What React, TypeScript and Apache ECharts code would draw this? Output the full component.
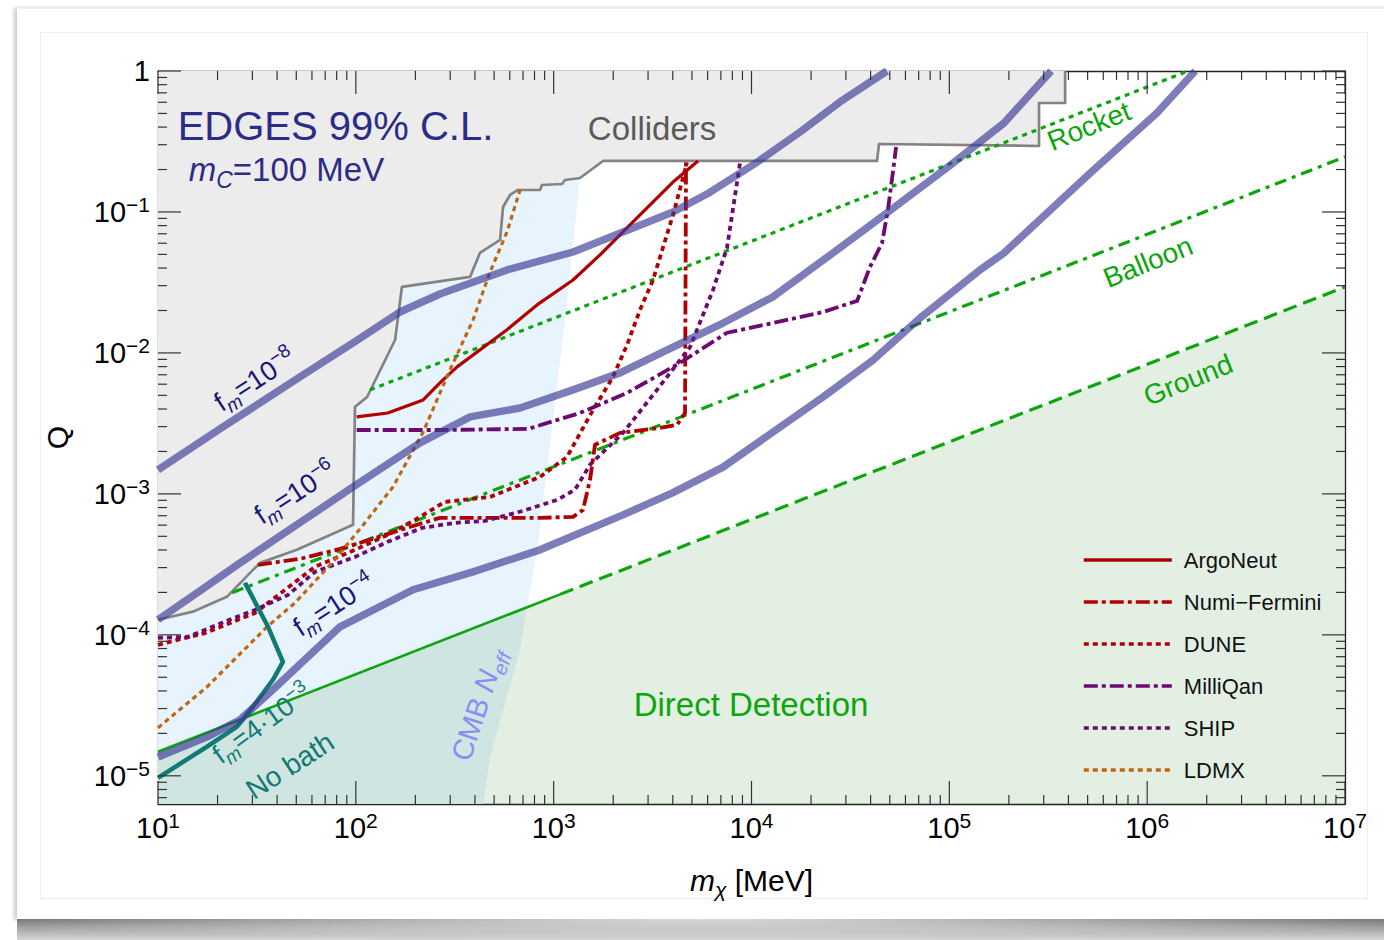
import React, { useEffect, useRef } from "react";
import * as echarts from "echarts";

type Pt = [number, number];

const FONT = '"Liberation Sans", Arial, Helvetica, sans-serif';

// Plot range: m_chi in MeV, Q dimensionless
const massRange: Pt = [10, 1e7];
const qRange: Pt = [6.31e-6, 1];

// Decade exponents that carry labels
const xTickExponents = [1, 2, 3, 4, 5, 6, 7];
const yTickExponents = [-5, -4, -3, -2, -1, 0];

// EDGES 99% C.L. curves, [m_chi (MeV), Q]
const fm8: Pt[] = [
  [10, 1.48e-3], [21.3, 2.99e-3], [52.2, 6.76e-3], [96.8, 1.18e-2], [167, 1.95e-2],
  [266, 2.62e-2], [581, 3.88e-2], [1253, 5.2e-2], [2242, 7.22e-2], [4011, 0.1],
  [5960, 0.134], [1.07e4, 0.226], [1.76e4, 0.369], [2.8e4, 0.603], [4.84e4, 1],
];
const fm6: Pt[] = [
  [10, 1.28e-4], [16.3, 2.05e-4], [26, 3.24e-4], [96.8, 1.12e-3], [211, 2.3e-3],
  [378, 3.52e-3], [676, 4.07e-3], [1253, 5.47e-3], [2165, 7.22e-3], [4011, 1.1e-2],
  [7180, 1.63e-2], [1.285e4, 2.5e-2], [2.58e4, 5.12e-2], [4.68e4, 9.52e-2],
  [1.03e5, 0.219], [1.89e5, 0.428], [3.27e5, 1],
];
const fm4: Pt[] = [
  [10, 1.36e-5], [17.7, 1.89e-5], [26, 2.5e-5], [39, 4.21e-5], [83.2, 1.14e-4],
  [194.5, 2.09e-4], [391, 2.8e-4], [853, 4.01e-4], [2242, 7.1e-4], [4011, 1.02e-3],
  [7180, 1.55e-3], [1.285e4, 2.75e-3], [2.3e4, 4.87e-3], [4.12e4, 8.92e-3],
  [7.11e4, 1.77e-2], [1.43e5, 3.88e-2], [1.89e5, 5.12e-2], [5.09e5, 0.186],
  [1.12e6, 0.504], [1.75e6, 1],
];
// f_m = 4e-3 without a thermal bath
const noBath: Pt[] = [
  [27.5, 2.34e-4], [36, 1.14e-4], [42.8, 6.43e-5], [38.1, 4.8e-5], [30.2, 3.09e-5],
  [25.1, 2.23e-5], [17.7, 1.61e-5], [10, 9.68e-6],
];

// Excluded regions
const collidersEdge: Pt[] = [
  [10, 1.28e-4], [15, 1.46e-4], [22.3, 1.86e-4], [29.2, 2.75e-4], [32.8, 3.24e-4],
  [50.4, 4.01e-4], [96.8, 6.03e-4], [99, 4.14e-3], [114, 4.87e-3], [158, 1.24e-2],
  [171, 2.94e-2], [378, 3.46e-2], [424, 5.12e-2], [536, 6.33e-2], [555, 0.1085],
  [602, 0.132], [660, 0.1432], [853, 0.1432], [873, 0.1554], [1102, 0.1579],
  [1141, 0.1686], [1359, 0.1742], [1776, 0.23], [4.31e4, 0.23], [4.41e4, 0.3035],
  [2.84e5, 0.2938], [2.84e5, 0.593], [3.85e5, 0.593], [3.85e5, 1],
];
const cmbEdge: Pt[] = [
  [1527, 1], [1359, 0.1742], [1168, 2.26e-2], [992, 3.35e-3], [824, 3.88e-4],
  [733, 1.58e-4], [676, 7.83e-5], [477, 1.36e-5], [440, 6.31e-6],
];
const groundSolid: Pt[] = [[10, 1.48e-5], [1077, 1.937e-4]];
const groundDashed: Pt[] = [[1077, 1.937e-4], [1e7, 2.94e-2]];
const balloon: Pt[] = [[23.7, 1.99e-4], [1e7, 0.246]];
const rocket: Pt[] = [[118, 5.47e-3], [1.61e6, 1]];

// Experimental reaches
const argoNeut: Pt[] = [
  [101, 3.52e-3], [145, 3.75e-3], [219, 4.64e-3], [266, 6.13e-3], [325, 7.96e-3],
  [581, 1.46e-2], [824, 2.19e-2], [1253, 3.29e-2], [1715, 4.96e-2], [2732, 9.52e-2],
  [4011, 0.163], [5366, 0.23],
];
const numiFermini: Pt[] = [
  [32, 3.14e-4], [52.2, 3.46e-4], [83.2, 4.07e-4], [122, 4.8e-4], [181, 5.74e-4],
  [266, 6.76e-4], [536, 6.76e-4], [853, 6.76e-4], [1253, 6.87e-4], [1407, 7.7e-4],
  [1527, 1.26e-3], [1618, 2.23e-3], [2165, 2.71e-3], [3448, 2.94e-3], [4202, 3.09e-3],
  [4613, 3.75e-3], [4667, 0.23],
];
const dune: Pt[] = [
  [10, 8.5e-5], [17.3, 1.03e-4], [30.9, 1.43e-4], [62.2, 3.04e-4], [99, 4.01e-4],
  [145, 5.12e-4], [199, 6.54e-4], [282, 8.78e-4], [477, 9.52e-4], [853, 1.32e-3],
  [1168, 1.83e-3], [1581, 3.94e-3], [1995, 6.76e-3], [2349, 1.14e-2], [2732, 2.02e-2],
  [3177, 3.29e-2], [4011, 9.52e-2], [4722, 0.223],
];
const milliQan: Pt[] = [
  [101, 2.84e-3], [266, 2.84e-3], [742, 2.89e-3], [1359, 3.75e-3], [2349, 5.2e-3],
  [4352, 8.5e-3], [7520, 1.39e-2], [1.285e4, 1.63e-2], [2.3e4, 1.95e-2],
  [3.42e4, 2.34e-2], [3.97e4, 4.07e-2], [4.57e4, 6.03e-2], [4.9e4, 0.105],
  [5.25e4, 0.219], [5.38e4, 0.289],
];
const ship: Pt[] = [
  [10, 9.52e-5], [14.2, 9.68e-5], [21.1, 1.22e-4], [30.9, 1.5e-4], [45.4, 1.92e-4],
  [62.2, 2.8e-4], [99, 3.57e-4], [145, 4.57e-4], [216, 5.74e-4], [317, 6.23e-4],
  [450, 6.43e-4], [700, 7.58e-4], [1040, 9.07e-4], [1282, 1.07e-3], [1527, 1.61e-3],
  [2242, 2.71e-3], [3329, 5.47e-3], [4890, 1.1e-2], [6391, 2.8e-2], [7520, 5.56e-2],
  [8750, 0.223],
];
const ldmx: Pt[] = [
  [10, 2.19e-5], [17.7, 4.28e-5], [35.6, 1.14e-4], [49.3, 1.69e-4], [75.8, 3.24e-4],
  [107, 5.83e-4], [154, 1.12e-3], [219, 2.75e-3], [299, 7.58e-3], [391, 1.71e-2],
  [477, 3.75e-2], [581, 7.22e-2], [676, 0.143],
];

const experimentNames = ["ArgoNeut", "Numi\u2212Fermini", "DUNE", "MilliQan", "SHIP", "LDMX"];

// ---------- styling ----------
const RED = "#b00000";
const PURPLE = "#6c0a72";
const ORANGE = "#c0660f";
const GREEN = "#0da50d";
const BAND = "rgba(58,58,148,0.66)";
const TEAL = "#127a74";
const NAVY = "#17177a";
const EDGES_BLUE = "#2c2c88";
const TICK = "#333";

const lg = (pts: Pt[]) => pts.map(([m, q]) => [Math.log10(m), Math.log10(q)]);

const minorTicks = (fromDecade: number, toDecade: number, lo: number, hi: number) => {
  const out: number[] = [];
  for (let d = fromDecade; d <= toDecade; d++) {
    for (let k = 2; k <= 9; k++) {
      const v = d + Math.log10(k);
      if (v > lo && v < hi) out.push(v);
    }
  }
  return out;
};

const lineSeries = (name: string, pts: Pt[], color: string, width: number, type: any, z: number) => ({
  type: "line",
  name,
  data: lg(pts),
  symbol: "none",
  showSymbol: false,
  silent: true,
  z,
  clip: true,
  lineStyle: { color, width, type, cap: "butt", join: "round" },
  itemStyle: { color },
  emphasis: { disabled: true },
});

const polygonSeries = (name: string, pts: Pt[], fill: string, z: number) => {
  const logPts = lg(pts);
  return {
    type: "custom",
    name,
    silent: true,
    z,
    data: [logPts[0]],
    renderItem: (_params: any, api: any) => ({
      type: "polygon",
      shape: { points: logPts.map((p) => api.coord(p)) },
      style: { fill, stroke: null },
    }),
  };
};

// Log-scale tick marks on all four sides of the frame, placed through the axes' scales
const tickSeries = (
  xMajor: number[], xMinor: number[], yMajor: number[], yMinor: number[],
  xMin: number, xMax: number, yMin: number, yMax: number
) => {
  const ticks = [
    ...xMajor.map((v) => ({ dim: "x", v, len: 23 })),
    ...xMinor.map((v) => ({ dim: "x", v, len: 9 })),
    ...yMajor.map((v) => ({ dim: "y", v, len: 23 })),
    ...yMinor.map((v) => ({ dim: "y", v, len: 9 })),
  ];
  const style = { stroke: TICK, lineWidth: 1.2 };
  return {
    type: "custom",
    name: "ticks",
    silent: true,
    z: 30,
    data: ticks.map((t) => (t.dim === "x" ? [t.v, yMin] : [xMin, t.v])),
    renderItem: (params: any, api: any) => {
      const t = ticks[params.dataIndex];
      if (t.dim === "x") {
        const a = api.coord([t.v, yMin]);
        const b = api.coord([t.v, yMax]);
        return {
          type: "group",
          children: [
            { type: "line", shape: { x1: a[0], y1: a[1], x2: a[0], y2: a[1] - t.len }, style },
            { type: "line", shape: { x1: b[0], y1: b[1], x2: b[0], y2: b[1] + t.len }, style },
          ],
        };
      }
      const a = api.coord([xMin, t.v]);
      const b = api.coord([xMax, t.v]);
      return {
        type: "group",
        children: [
          { type: "line", shape: { x1: a[0], y1: a[1], x2: a[0] + t.len, y2: a[1] }, style },
          { type: "line", shape: { x1: b[0], y1: b[1], x2: b[0] - t.len, y2: b[1] }, style },
        ],
      };
    },
  };
};

const supRich = {
  b: { fontSize: 29, fontFamily: FONT, color: "#000", lineHeight: 35, verticalAlign: "middle" },
  s: { fontSize: 21, fontFamily: FONT, color: "#000", lineHeight: 21, verticalAlign: "top" },
};

const frameStyle = { color: "#222", width: 1.3 };

function buildOption() {
  const xMin = Math.log10(massRange[0]);
  const xMax = Math.log10(massRange[1]);
  const yMin = Math.log10(qRange[0]);
  const yMax = Math.log10(qRange[1]);
  const xMinor = minorTicks(1, 6, xMin, xMax);
  const yMinor = minorTicks(-6, -1, yMin, yMax);

  const xBase = { type: "value", min: xMin, max: xMax, splitLine: { show: false }, axisPointer: { show: false }, axisTick: { show: false } };
  const yBase = { type: "value", min: yMin, max: yMax, splitLine: { show: false }, axisPointer: { show: false }, axisTick: { show: false } };

  const lbl = (pos: Pt, text: string, rotate: number, rich: Record<string, any>) => ({
    value: [Math.log10(pos[0]), Math.log10(pos[1])],
    label: {
      show: true,
      position: "inside",
      formatter: text,
      rotate,
      rich,
      align: "center",
      verticalAlign: "middle",
      opacity: 1,
      textBorderWidth: 0,
    },
  });

  const fmRich = (color: string) => ({
    r: { fontSize: 27, fontFamily: FONT, color, lineHeight: 36, verticalAlign: "middle", textBorderWidth: 0 },
    c: { fontSize: 19, fontFamily: FONT, color, fontStyle: "italic", lineHeight: 19, verticalAlign: "bottom", textBorderWidth: 0 },
    s: { fontSize: 19, fontFamily: FONT, color, lineHeight: 19, verticalAlign: "top", textBorderWidth: 0 },
  });
  const plain = (size: number, color: string) => ({ t: { fontSize: size, fontFamily: FONT, color, textBorderWidth: 0 } });

  const annotations = [
    lbl([78.9, 0.407], "{t|EDGES 99% C.L.}", 0, plain(40, EDGES_BLUE)),
    lbl([44.6, 0.199], "{i|m}{c|C}{r|=100 MeV}", 0, {
      i: { fontSize: 33, fontFamily: FONT, color: EDGES_BLUE, fontStyle: "italic", lineHeight: 43, verticalAlign: "middle", textBorderWidth: 0 },
      c: { fontSize: 23, fontFamily: FONT, color: EDGES_BLUE, fontStyle: "italic", lineHeight: 23, verticalAlign: "bottom", textBorderWidth: 0 },
      r: { fontSize: 33, fontFamily: FONT, color: EDGES_BLUE, lineHeight: 43, verticalAlign: "middle", textBorderWidth: 0 },
    }),
    lbl([3143, 0.394], "{t|Colliders}", 0, plain(33, "#5a5a5a")),
    lbl([5.08e5, 0.407], "{t|Rocket}", 22, plain(28, GREEN)),
    lbl([1.01e6, 0.0442], "{t|Balloon}", 22, plain(28, GREEN)),
    lbl([1.61e6, 6.43e-3], "{t|Ground}", 22, plain(28, GREEN)),
    lbl([9945, 3.19e-5], "{t|Direct Detection}", 0, plain(33, GREEN)),
    lbl([415, 3.19e-5], "{r|CMB }{i|N}{c|eff}", 72, {
      r: { fontSize: 29, fontFamily: FONT, color: "#8b8df4", lineHeight: 40, verticalAlign: "middle", textBorderWidth: 0 },
      i: { fontSize: 29, fontFamily: FONT, color: "#8b8df4", fontStyle: "italic", lineHeight: 40, verticalAlign: "middle", textBorderWidth: 0 },
      c: { fontSize: 20, fontFamily: FONT, color: "#8b8df4", fontStyle: "italic", lineHeight: 20, verticalAlign: "bottom", textBorderWidth: 0 },
    }),
    lbl([30.9, 6.43e-3], "{r|f}{c|m}{r|=10}{s|\u22128}", 33, fmRich(NAVY)),
    lbl([49.3, 1.02e-3], "{r|f}{c|m}{r|=10}{s|\u22126}", 33, fmRich(NAVY)),
    lbl([77.6, 1.63e-4], "{r|f}{c|m}{r|=10}{s|\u22124}", 33, fmRich(NAVY)),
    lbl([33.6, 2.34e-5], "{r|f}{c|m}{r|=4\u00b710}{s|\u22123}", 36, fmRich(TEAL)),
    lbl([46.5, 1.18e-5], "{t|No bath}", 33, plain(28, TEAL)),
  ];

  return {
    animation: false,
    backgroundColor: "transparent",
    tooltip: { show: false },
    grid: { left: 158, right: 39, top: 71, bottom: 136, containLabel: false, outerBoundsMode: "none" },
    legend: {
      data: experimentNames,
      orient: "vertical",
      left: 1077,
      top: 544,
      itemWidth: 88,
      itemHeight: 20,
      itemGap: 20,
      selectedMode: false,
      itemStyle: { opacity: 0, borderWidth: 0 },
      lineStyle: { width: 3.6 },
      textStyle: { fontSize: 22, fontFamily: FONT, color: "#111", padding: [0, 0, 0, 7], lineHeight: 22 },
    },
    xAxis: [
      {
        ...xBase,
        position: "bottom",
        axisLine: { show: true, onZero: false, lineStyle: frameStyle },
        axisLabel: {
          show: true,
          customValues: xTickExponents,
          margin: 6,
          formatter: (v: number) => `{b|10}{s|${v}}`,
          rich: supRich,
        },
        name: "{i|m}{c|\u03c7}{r| [MeV]}",
        nameLocation: "middle",
        nameGap: 56,
        nameTextStyle: {
          rich: {
            i: { fontSize: 30, fontFamily: FONT, color: "#000", fontStyle: "italic", lineHeight: 40, verticalAlign: "middle" },
            c: { fontSize: 21, fontFamily: FONT, color: "#000", fontStyle: "italic", lineHeight: 21, verticalAlign: "bottom" },
            r: { fontSize: 30, fontFamily: FONT, color: "#000", lineHeight: 40, verticalAlign: "middle" },
          },
        },
      },
      { ...xBase, position: "top", axisLine: { show: true, onZero: false, lineStyle: frameStyle }, axisLabel: { show: false } },
    ],
    yAxis: [
      {
        ...yBase,
        position: "left",
        axisLine: { show: true, onZero: false, lineStyle: frameStyle },
        axisLabel: {
          show: true,
          customValues: yTickExponents,
          margin: 8,
          formatter: (v: number) => (v === 0 ? "{b|1}" : `{b|10}{s|\u2212${-v}}`),
          rich: supRich,
        },
        name: "Q",
        nameLocation: "middle",
        nameGap: 86,
        nameRotate: 90,
        nameTextStyle: { fontSize: 30, fontFamily: FONT, color: "#000" },
      },
      { ...yBase, position: "right", axisLine: { show: true, onZero: false, lineStyle: frameStyle }, axisLabel: { show: false } },
    ],
    series: [
      polygonSeries("CMB Neff", [[10, 1], ...cmbEdge, [10, qRange[0]]], "#e8f4fd", 1),
      polygonSeries("Colliders", [...collidersEdge, [10, 1]], "#ececec", 2),
      polygonSeries(
        "Direct Detection",
        [groundSolid[0], groundDashed[1], [1e7, qRange[0]], [10, qRange[0]]],
        "rgba(10,110,10,0.11)",
        3
      ),
      lineSeries("collidersEdge", collidersEdge, "#838383", 2.7, "solid", 4),
      lineSeries("Ground", groundSolid, GREEN, 2.6, "solid", 5),
      lineSeries("Ground dashed", groundDashed, GREEN, 3.2, [14, 7], 5),
      lineSeries("Balloon", balloon, GREEN, 3.2, [12, 6, 4, 6], 5),
      lineSeries("Rocket", rocket, GREEN, 3.2, [5, 5], 5),
      lineSeries("ArgoNeut", argoNeut, RED, 3.2, "solid", 6),
      lineSeries("Numi\u2212Fermini", numiFermini, RED, 3.8, [14, 4, 4, 4], 6),
      lineSeries("DUNE", dune, RED, 3.8, [5, 4], 6),
      lineSeries("MilliQan", milliQan, PURPLE, 3.8, [14, 4, 4, 4], 6),
      lineSeries("SHIP", ship, PURPLE, 3.8, [5, 4], 6),
      lineSeries("LDMX", ldmx, ORANGE, 3.2, [5, 4], 6),
      lineSeries("noBath", noBath, TEAL, 4.5, "solid", 7),
      lineSeries("fm8", fm8, BAND, 7.5, "solid", 8),
      lineSeries("fm6", fm6, BAND, 7.5, "solid", 8),
      lineSeries("fm4", fm4, BAND, 7.5, "solid", 8),
      tickSeries(xTickExponents, xMinor, yTickExponents, yMinor, xMin, xMax, yMin, yMax),
      {
        type: "scatter",
        name: "annotations",
        silent: true,
        z: 20,
        symbolSize: 0,
        itemStyle: { color: "#000", opacity: 1 },
        emphasis: { disabled: true },
        data: annotations,
      },
    ],
  };
}

export default function App() {
  const ref = useRef<HTMLDivElement>(null);
  useEffect(() => {
    if (!ref.current) return;
    const chart = echarts.init(ref.current, null, { renderer: "svg" });
    chart.setOption(buildOption() as any);
    return () => chart.dispose();
  }, []);

  return (
    <div style={{ position: "fixed", left: 0, top: 0, width: 1384, height: 940, background: "#fff", overflow: "hidden" }}>
      <div
        style={{
          position: "absolute",
          left: 17,
          top: 8,
          width: 1380,
          height: 911,
          background: "#fff",
          borderTop: "1px solid #f2f2f2",
          boxShadow: "-3px 0 4px rgba(0,0,0,0.2)",
        }}
      />
      <div
        style={{
          position: "absolute",
          left: 40,
          top: 32,
          width: 1326,
          height: 865,
          border: "1px solid #eeeeee",
        }}
      />
      <div
        style={{
          position: "absolute",
          left: 17,
          top: 919,
          width: 1367,
          height: 21,
          background:
            "radial-gradient(ellipse 55% 100% at 50% 0%, rgba(255,255,255,0.75), rgba(255,255,255,0) 100%), linear-gradient(to bottom, #6d6d6d, #a6a6a6 45%, #d6d6d6)",
        }}
      />
      <div ref={ref} style={{ position: "absolute", left: 0, top: 0, width: 1384, height: 940 }} />
    </div>
  );
}
